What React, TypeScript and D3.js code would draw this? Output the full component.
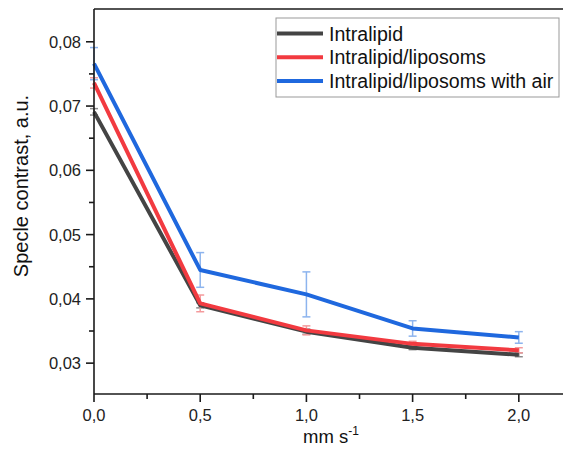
import React from 'react';
import { scaleLinear, line, range } from 'd3';

// speeds, mm/s
const speeds = [0, 0.5, 1.0, 1.5, 2.0];

const intralipid = [0.0691, 0.0390, 0.0349, 0.0324, 0.0313];
const intralipidErr = [0.0005, 0.0004, 0.0004, 0.0003, 0.0003];

const liposoms = [0.0736, 0.0393, 0.0351, 0.0330, 0.0320];
const liposomsErr = [0.0008, 0.0013, 0.0007, 0.0004, 0.0004];

const withAir = [0.0766, 0.0445, 0.0407, 0.0354, 0.0340];
const withAirErr = [0.0025, 0.0027, 0.0035, 0.0012, 0.0009];

const xTicks = [0, 0.5, 1.0, 1.5, 2.0];
const yTicks = [0.03, 0.04, 0.05, 0.06, 0.07, 0.08];

const seriesNames = ['Intralipid', 'Intralipid/liposoms', 'Intralipid/liposoms with air'];

const W = 564;
const H = 457;
const FONT = 'Liberation Sans, Arial, sans-serif';

const fmt = (v: number, d: number) => v.toFixed(d).replace('.', ',');

export default function App() {
  const left = 94, right = 563, top = 9, bottom = 394;

  const x = scaleLinear().domain([0, 2.208]).range([left, right]);
  const y = scaleLinear().domain([0.0252, 0.0851]).range([bottom, top]);

  const series = [
    { name: seriesNames[0], vals: intralipid, err: intralipidErr, color: '#444444', errColor: '#8a8a8a' },
    { name: seriesNames[1], vals: liposoms, err: liposomsErr, color: '#f23a40', errColor: '#f49a9c' },
    { name: seriesNames[2], vals: withAir, err: withAirErr, color: '#1f68de', errColor: '#8db4ee' },
  ];

  const lineFn = line<number>()
    .x((_, i) => x(speeds[i]))
    .y((d) => y(d));

  const xMinor = range(0.25, 2.2, 0.5);
  const yMinor = range(0.025, 0.085, 0.01).filter((v) => y(v) <= bottom && y(v) >= top);

  const legX = 276, legY = 18, legW = 283, legH = 79;

  return (
    <svg width={W} height={H} style={{ position: 'absolute', left: 0, top: 0 }} fontFamily={FONT}>
      <rect width={W} height={H} fill="#fff" />

      {/* error bars under the lines */}
      {series.map((s) => (
        <g key={'e' + s.name} stroke={s.errColor} strokeWidth={1.5}>
          {s.vals.map((v, i) => {
            const cx = x(speeds[i]);
            const y0 = y(v - s.err[i]);
            const y1 = y(v + s.err[i]);
            return (
              <g key={i}>
                <line x1={cx} x2={cx} y1={y0} y2={y1} />
                <line x1={cx - 4} x2={cx + 4} y1={y0} y2={y0} />
                <line x1={cx - 4} x2={cx + 4} y1={y1} y2={y1} />
              </g>
            );
          })}
        </g>
      ))}

      {series.map((s) => (
        <path key={s.name} d={lineFn(s.vals) || ''} fill="none" stroke={s.color} strokeWidth={4} strokeLinejoin="round" />
      ))}

      {/* axes */}
      <g stroke="#1a1a1a" strokeWidth={1.6}>
        <line x1={left} x2={right} y1={top} y2={top} />
        <line x1={left} x2={left} y1={top} y2={bottom} />
        <line x1={left} x2={right} y1={bottom} y2={bottom} />
        {yTicks.map((t) => (
          <line key={'yt' + t} x1={left - 8} x2={left} y1={y(t)} y2={y(t)} />
        ))}
        {yMinor.map((t) => (
          <line key={'ym' + t} x1={left - 5} x2={left} y1={y(t)} y2={y(t)} />
        ))}
        {xTicks.map((t) => (
          <line key={'xt' + t} x1={x(t)} x2={x(t)} y1={bottom} y2={bottom + 8} />
        ))}
        {xMinor.map((t) => (
          <line key={'xm' + t} x1={x(t)} x2={x(t)} y1={bottom} y2={bottom + 5} />
        ))}
      </g>

      <g fontSize={16.5} fill="#222">
        {yTicks.map((t) => (
          <text key={'yl' + t} x={left - 13} y={y(t)} dy="0.36em" textAnchor="end">{fmt(t, 2)}</text>
        ))}
        {xTicks.map((t) => (
          <text key={'xl' + t} x={x(t)} y={bottom + 27} textAnchor="middle">{fmt(t, 1)}</text>
        ))}
      </g>

      <text x={303} y={443} fontSize={18.5} fill="#111">
        mm s<tspan fontSize={12} dy={-8}>-1</tspan>
      </text>
      <text transform="translate(28,186) rotate(-90)" textAnchor="middle" fontSize={20} fill="#111">
        Specle contrast, a.u.
      </text>

      {/* legend */}
      <rect x={legX} y={legY} width={legW} height={legH} fill="#fff" stroke="#999" strokeWidth={1} />
      {series.map((s, i) => {
        const cy = 33.5 + i * 23.8;
        return (
          <g key={'lg' + s.name}>
            <line x1={legX + 1} x2={323} y1={cy} y2={cy} stroke={s.color} strokeWidth={4} />
            <text x={329} y={cy} dy="0.36em" fontSize={19.6} fill="#111">{s.name}</text>
          </g>
        );
      })}
    </svg>
  );
}
